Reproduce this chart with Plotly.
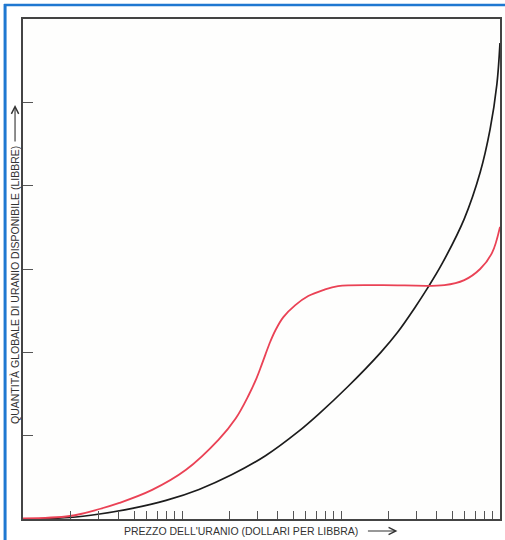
import plotly.graph_objects as go

# Black curve: price (dollars per pound, log scale) vs available quantity
black_price = [1, 1.97, 3.03, 4.87, 7.94, 12.8, 20.5, 33.5, 53.8, 71.8, 110.6, 178, 227, 290, 350, 434, 596, 750, 866, 956, 1000]
black_qty = [0, 0.018, 0.060, 0.127, 0.223, 0.355, 0.530, 0.759, 1.048, 1.253, 1.590, 2.0, 2.241, 2.53, 2.77, 3.07, 3.602, 4.157, 4.675, 5.217, 5.711]

# Red curve
red_price = [1, 1.97, 3.03, 4.04, 6.49, 10.6, 17.0, 21.75, 26.2, 29.4, 31.6, 33.5, 36.0, 38.7, 43.4, 51.6, 62.2, 77.2, 95.8, 178, 447, 596, 750, 891, 1000]
red_qty = [0.006, 0.036, 0.120, 0.193, 0.349, 0.590, 0.952, 1.205, 1.482, 1.687, 1.843, 1.976, 2.133, 2.265, 2.422, 2.566, 2.675, 2.747, 2.795, 2.807, 2.807, 2.867, 3.0, 3.193, 3.506]

x_ticks = [2, 3, 4, 5, 6, 7, 8, 9, 10, 20, 30, 40, 50, 60, 70, 80, 90, 100,
           200, 300, 400, 500, 600, 700, 800, 900]
y_ticks = [1, 2, 3, 4, 5]

x_title = "PREZZO DELL'URANIO (DOLLARI PER LIBBRA)"
y_title = "QUANTITÀ GLOBALE DI URANIO DISPONIBILE (LIBBRE)"

FONT = "Liberation Sans, Arial, Helvetica, sans-serif"
W, H = 505, 540
L, R, T, B = 23, 3, 19, 21
pw, ph = W - L - R, H - T - B


def px_x(p):
    return (p - L) / pw


def px_y(p):
    return (H - B - p) / ph


fig = go.Figure()
fig.add_trace(go.Scatter(x=black_price, y=black_qty, mode="lines",
                         line=dict(color="#1c1c1c", width=1.7, shape="spline", smoothing=1.0),
                         hoverinfo="skip", showlegend=False))
fig.add_trace(go.Scatter(x=red_price, y=red_qty, mode="lines",
                         line=dict(color="#ea4255", width=1.8, shape="spline", smoothing=1.0),
                         hoverinfo="skip", showlegend=False))

fig.update_layout(
    width=W, height=H,
    margin=dict(l=L, r=R, t=T, b=B, pad=0),
    paper_bgcolor="#ffffff",
    plot_bgcolor="#fefefd",
    showlegend=False,
    xaxis=dict(type="log", range=[0, 3], tickvals=x_ticks, showticklabels=False,
               ticks="inside", ticklen=8, tickwidth=1, tickcolor="#555",
               showgrid=False, zeroline=False, showline=True, mirror=True,
               linecolor="#444", linewidth=1.5),
    yaxis=dict(range=[0, 6], tickvals=y_ticks, showticklabels=False,
               ticks="inside", ticklen=10, tickwidth=1, tickcolor="#555",
               showgrid=False, zeroline=False, showline=True, mirror=True,
               linecolor="#444", linewidth=1.5),
)

# Axis titles
fig.add_annotation(text=y_title, textangle=-90, xref="paper", yref="paper",
                   x=px_x(15), y=px_y(285), xanchor="center", yanchor="middle",
                   showarrow=False, font=dict(family=FONT, size=10.5, color="#333"))
fig.add_annotation(text=x_title, xref="paper", yref="paper",
                   x=px_x(242), y=px_y(531), xanchor="center", yanchor="middle",
                   showarrow=False, font=dict(family=FONT, size=10.5, color="#333"))

# Arrows next to titles
fig.add_annotation(text="", xref="paper", yref="paper", x=px_x(15), y=px_y(105),
                   ax=0, ay=38, showarrow=True, arrowhead=5, arrowsize=1.3,
                   arrowwidth=1.1, arrowcolor="#333", standoff=0)
fig.add_annotation(text="", xref="paper", yref="paper", x=px_x(399), y=px_y(531),
                   ax=-31, ay=0, showarrow=True, arrowhead=5, arrowsize=1.3,
                   arrowwidth=1.1, arrowcolor="#333", standoff=0)

# Blue frame of the scanned page
fig.add_shape(type="line", xref="paper", yref="paper",
              x0=px_x(5), x1=px_x(5), y0=px_y(4), y1=px_y(545),
              line=dict(color="#1f78d1", width=3))
fig.add_shape(type="line", xref="paper", yref="paper",
              x0=px_x(4), x1=px_x(510), y0=px_y(5), y1=px_y(5),
              line=dict(color="#1f78d1", width=2.5))

fig.write_html("out.html",
               config={"displayModeBar": False},
               post_script="document.body.style.margin='0';"
                           "document.body.style.overflow='hidden';")
